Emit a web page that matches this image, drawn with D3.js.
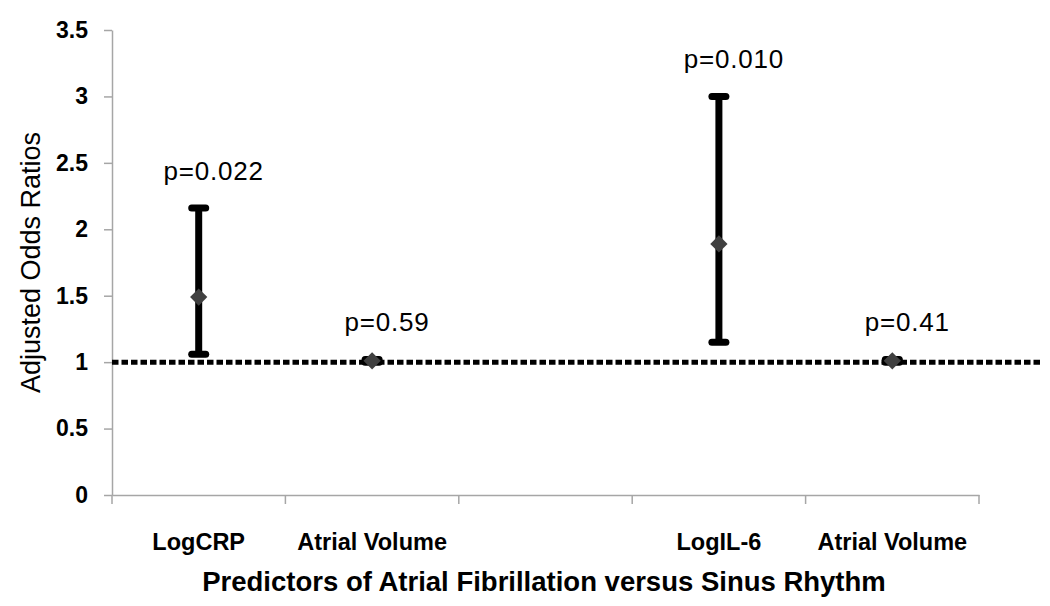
<!DOCTYPE html>
<html>
<head>
<meta charset="utf-8">
<script src="https://cdn.jsdelivr.net/npm/d3@7"></script>
<style>
  body { margin: 0; background: #fff; }
  svg { font-family: Arial, 'Liberation Sans', sans-serif; }
</style>
</head>
<body>
<div id="chart"></div>
<script>
// categories (third slot is an empty gap between the two groups)
const categories = ['LogCRP', 'Atrial Volume', '', 'LogIL-6', 'Atrial Volume']
const oddsRatio = [1.49, 1.01, null, 1.89, 1.01]
const lowerCI = [1.06, 1.00, null, 1.15, 1.00]
const upperCI = [2.16, 1.02, null, 3.00, 1.02]
const pLabels = ['p=0.022', 'p=0.59', '', 'p=0.010', 'p=0.41']
const yTicks = [0, 0.5, 1, 1.5, 2, 2.5, 3, 3.5]
const referenceOR = 1

const W = 1050, H = 606
const MARGIN = {TOP: 30, BOTTOM: 111, LEFT: 112, RIGHT: 71}
const axisColor = '#a6a6a6'

const svg = d3.select('#chart').append('svg')
    .attr('width', W)
    .attr('height', H)

const data = categories.map((c, i) => ({
    i, name: c, or: oddsRatio[i], lo: lowerCI[i], hi: upperCI[i], p: pLabels[i]
}))

const x = d3.scaleBand()
    .domain(d3.range(categories.length))
    .range([MARGIN.LEFT, W - MARGIN.RIGHT])
    .padding(0)

const y = d3.scaleLinear()
    .domain([0, 3.5])
    .range([H - MARGIN.BOTTOM, MARGIN.TOP])

// y axis
const yAxis = svg.append('g')
    .attr('transform', `translate(${MARGIN.LEFT},0)`)
    .call(d3.axisLeft(y).tickValues(yTicks).tickSize(8).tickSizeOuter(0)
        .tickPadding(16).tickFormat(d => d))
yAxis.selectAll('path, line').attr('stroke', axisColor).attr('stroke-width', 1.5)
yAxis.selectAll('text')
    .attr('fill', '#000')
    .style('font-size', '23px')
    .style('font-weight', 'bold')

// x axis: labels in band centres, tick marks between categories
const xAxis = svg.append('g')
    .attr('transform', `translate(0,${y(0)})`)
    .call(d3.axisBottom(x).tickSize(0).tickSizeOuter(0).tickPadding(38)
        .tickFormat(i => categories[i]))
xAxis.select('.domain').attr('stroke', axisColor).attr('stroke-width', 1.5)
xAxis.selectAll('text')
    .attr('fill', '#000')
    .style('font-size', '23.5px')
    .style('font-weight', 'bold')

const boundaries = x.domain().map(d => x(d)).concat([x.range()[1]])
xAxis.selectAll('.sep')
    .data(boundaries)
    .enter().append('line')
    .attr('x1', d => d).attr('x2', d => d)
    .attr('y1', 0).attr('y2', 9)
    .attr('stroke', axisColor)
    .attr('stroke-width', 1.5)

// axis titles
svg.append('text')
    .attr('transform', `translate(40,${(y(0) + y(3.5)) / 2}) rotate(-90)`)
    .attr('text-anchor', 'middle')
    .style('font-size', '27px')
    .text('Adjusted Odds Ratios')

svg.append('text')
    .attr('x', 544)
    .attr('y', 591)
    .attr('text-anchor', 'middle')
    .style('font-size', '27.5px')
    .style('font-weight', 'bold')
    .text('Predictors of Atrial Fibrillation versus Sinus Rhythm')

// reference line at OR = 1
svg.append('line')
    .attr('x1', MARGIN.LEFT)
    .attr('x2', 1040)
    .attr('y1', y(referenceOR))
    .attr('y2', y(referenceOR))
    .attr('stroke', '#000')
    .attr('stroke-width', 5)
    .attr('stroke-dasharray', '6.5,3')

const pts = data.filter(d => d.or != null)
const cx = d => x(d.i) + x.bandwidth() / 2

// error bars
const bars = svg.append('g').selectAll('g').data(pts).enter().append('g')
bars.append('line')
    .attr('x1', cx).attr('x2', cx)
    .attr('y1', d => y(d.lo)).attr('y2', d => y(d.hi))
    .attr('stroke', '#000').attr('stroke-width', 7)
bars.selectAll('.cap')
    .data(d => [d.lo, d.hi].map(v => ({v, c: cx(d)})))
    .enter().append('line')
    .attr('x1', d => d.c - 7).attr('x2', d => d.c + 7)
    .attr('y1', d => y(d.v)).attr('y2', d => y(d.v))
    .attr('stroke', '#000').attr('stroke-width', 7)
    .attr('stroke-linecap', 'round')

// point estimates
svg.append('g').selectAll('path').data(pts).enter().append('path')
    .attr('d', d3.symbol(d3.symbolDiamond2, 190))
    .attr('transform', d => `translate(${cx(d)},${y(d.or)})`)
    .attr('fill', '#404040')

// p-value labels
svg.append('g').selectAll('text').data(pts).enter().append('text')
    .attr('x', d => cx(d) + 15)
    .attr('y', d => y(d.hi) - 28)
    .attr('text-anchor', 'middle')
    .style('font-size', '26px')
    .style('letter-spacing', '0.8px')
    .text(d => d.p)
</script>
</body>
</html>
